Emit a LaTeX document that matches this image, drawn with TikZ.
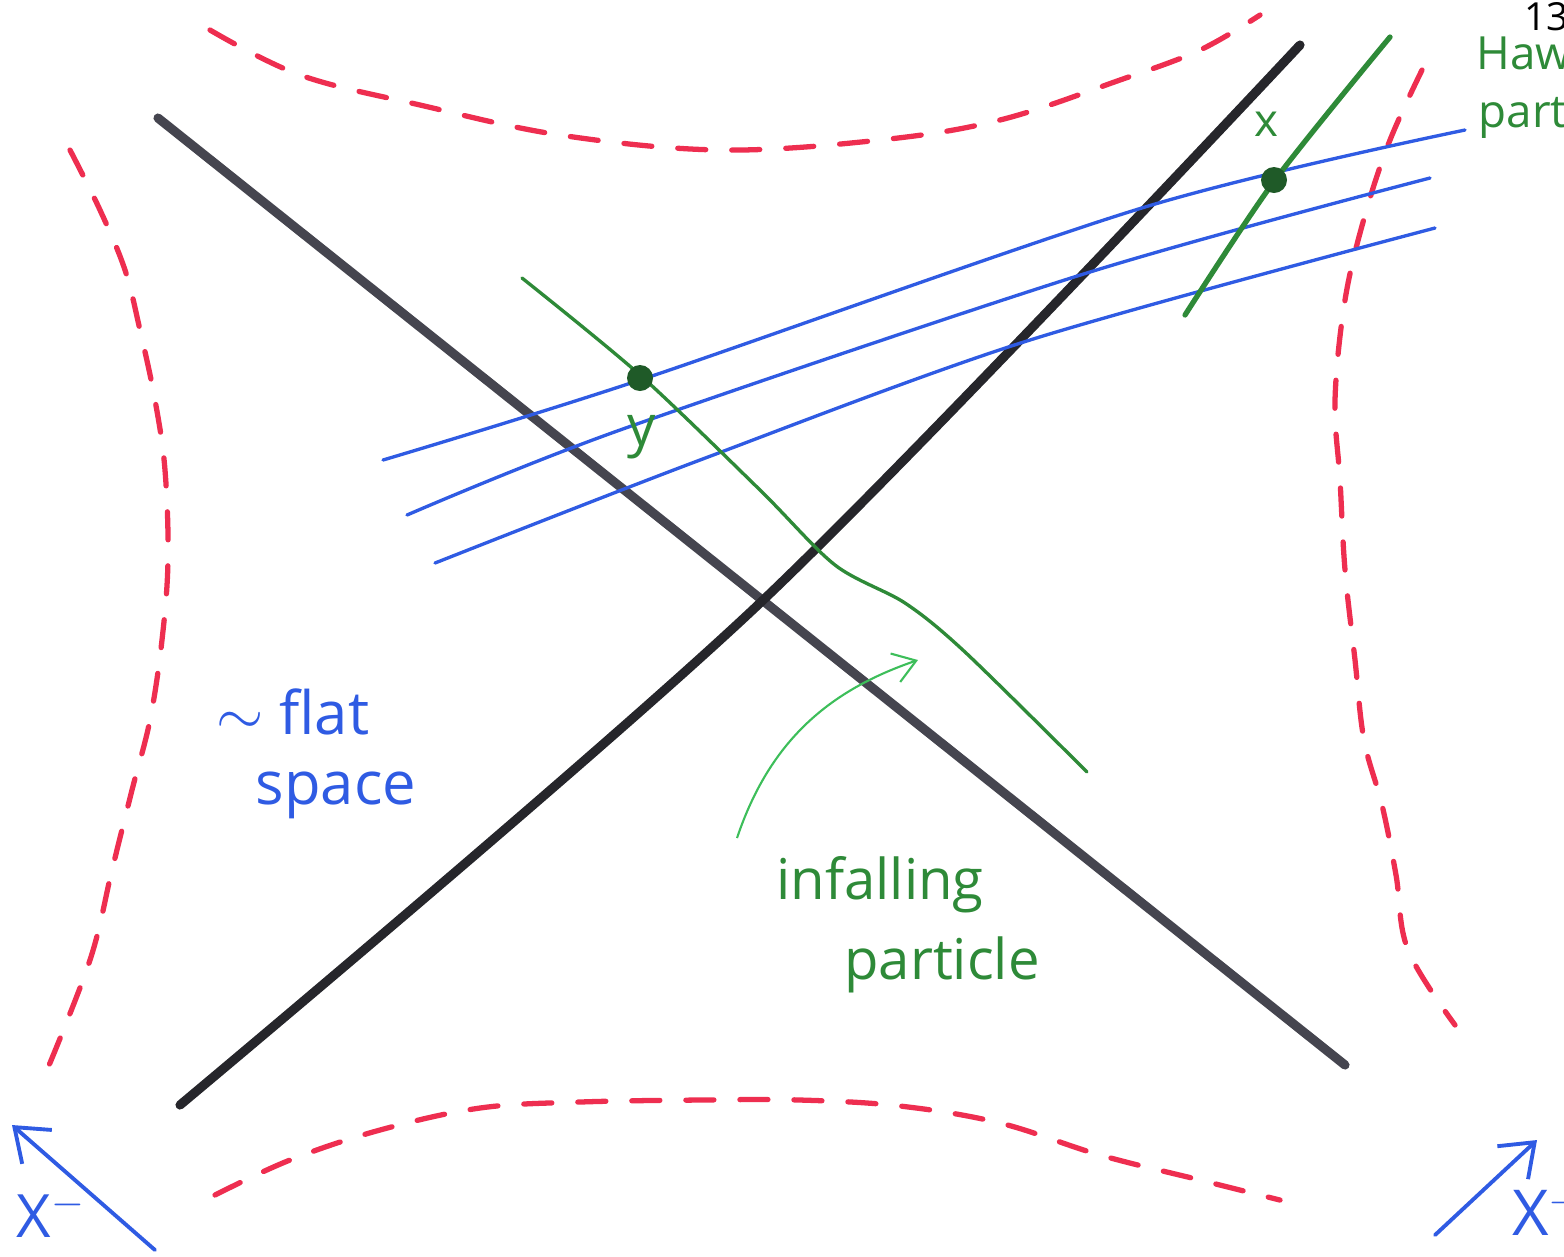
\documentclass[tikz,border=0pt]{standalone}
\usepackage{fontspec}
\setsansfont{Open Sans}
\usepackage{xcolor}
\definecolor{horizonBlack}{HTML}{26262B}
\definecolor{horizonGray}{HTML}{45454F}
\definecolor{boundaryRed}{HTML}{EE2E50}
\definecolor{rayBlue}{HTML}{2F5BE3}
\definecolor{particleGreen}{HTML}{2E8A38}
\definecolor{dotGreen}{HTML}{1F5A28}
\definecolor{arrowGreen}{HTML}{3DBE5A}
\usepackage{tikz}
\usetikzlibrary{
    arrows.meta,
    positioning,
    calc
}
\tikzset{
    % Horizons - thick dark marker strokes
    horizon/.style={
        line width=2.6pt,
        draw=horizonBlack,
        line cap=round,
    },
    % Conformal boundary - red dashes
    boundary/.style={
        line width=1.5pt,
        draw=boundaryRed,
        line cap=round,
        dash pattern=on 0.28cm off 0.26cm,
    },
    % Outgoing light rays
    ray/.style={
        line width=0.95pt,
        draw=rayBlue,
        line cap=round,
    },
    % Particle worldlines
    worldline/.style={
        line width=0.95pt,
        draw=particleGreen,
        line cap=round,
    },
    % Events marked on the worldlines
    event/.style={
        circle,
        fill=dotGreen,
        inner sep=0pt,
        minimum size=0.26cm,
    },
    % Light-cone axis arrows
    axis arrow/.style={
        -{Straight Barb[length=3mm, width=4.5mm]},
        line width=1.1pt,
        draw=rayBlue,
        line cap=round,
    },
    % Pointer to the infalling particle
    pointer/.style={
        -{Straight Barb[length=2.2mm, width=3mm]},
        line width=0.6pt,
        draw=arrowGreen,
    },
    % Handwritten-ish labels
    blue label/.style={
        text=rayBlue,
        font=\sffamily\fontsize{17}{20}\selectfont,
        inner sep=0pt,
    },
    green label/.style={
        text=particleGreen,
        font=\sffamily\fontsize{16}{19}\selectfont,
        inner sep=0pt,
    },
}

\begin{document}
\begin{tikzpicture}[x=0.01cm, y=-0.01cm, font=\sffamily]
    \useasboundingbox (0,0) rectangle (1564,1256);
    \clip (0,0) rectangle (1564,1256);

    % conformal boundary
    \draw [boundary] plot [smooth, tension=0.6] coordinates {
        (210,30) (300,75) (420,105) (560,135) (720,150) (880,140)
        (1000,120) (1120,80) (1200,50) (1260,15)};
    \draw [boundary] plot [smooth, tension=0.6] coordinates {
        (1422,70) (1390,140) (1365,215) (1345,300) (1335,400) (1340,480)
        (1345,570) (1355,660) (1364,740) (1382,805) (1396,875) (1408,950) (1455,1025)};
    \draw [boundary] plot [smooth, tension=0.6] coordinates {
        (215,1195) (290,1160) (380,1130) (480,1108) (580,1102) (700,1100)
        (800,1100) (900,1106) (1000,1123) (1100,1155) (1200,1180) (1280,1200)};
    \draw [boundary] plot [smooth, tension=0.6] coordinates {
        (70,150) (100,210) (125,270) (140,330) (155,400) (165,470)
        (168,560) (162,640) (150,720) (132,790) (112,870) (90,960) (45,1075)};

    % horizons
    \draw [horizon, draw=horizonGray] (158,118) -- (1345,1065);
    \draw [horizon] plot [smooth, tension=0.5] coordinates {
        (180,1105) (760,603) (1300,45)};

    % light rays
    \draw [ray] plot [smooth, tension=0.5] coordinates {
        (383,460) (640,380) (1145,207) (1465,130)};
    \draw [ray] plot [smooth, tension=0.5] coordinates {
        (407,515) (620,430) (1090,272) (1430,178)};
    \draw [ray] plot [smooth, tension=0.5] coordinates {
        (435,563) (700,460) (1030,340) (1435,228)};

    % worldlines
    \draw [worldline] plot [smooth, tension=0.5] coordinates {
        (522,278) (640,375) (760,490) (835,565) (905,603) (965,652) (1087,772)};
    \draw [worldline, line width=1.5pt] plot [smooth, tension=0.5] coordinates {
        (1185,315) (1275,180) (1390,37)};

    % events
    \node (yevent) [event] at (640,378) {};
    \node (xevent) [event] at (1274,180) {};
    \node (ylbl) [green label] at (642,437) {y};
    \node (xlbl) [green label, font=\sffamily\fontsize{13}{15}\selectfont] at (1266,124) {x};

    % labels
    \node (flatlbl) [blue label] at (293,712) {$\sim$ flat};
    \node (spacelbl) [blue label] at (336,795) {space};
    \node (fallLbl) [green label] at (880,885) {infalling};
    \node (partLbl) [green label] at (942,965) {particle};
    \node (hawkLbl) [green label, anchor=west, font=\sffamily\fontsize{13}{15}\selectfont] at (1476,58) {Hawking};
    \node (hpartLbl) [green label, anchor=west, font=\sffamily\fontsize{13}{15}\selectfont] at (1478,116) {particle};
    \node (pageNo) [anchor=north west, inner sep=0pt, font=\sffamily\fontsize{11}{13}\selectfont] at (1524,2) {13};

    % pointer to the infalling particle
    \coordinate (ptrTail) at (737,838);
    \coordinate (ptrHead) at (918,660);
    \draw [pointer] (ptrTail) .. controls (770,740) and (830,690) .. (ptrHead);

    % null coordinate axes
    \coordinate (xmTail) at (155,1250);
    \coordinate (xmTip) at (12,1125);
    \coordinate (xpTail) at (1435,1235);
    \coordinate (xpTip) at (1537,1140);
    \draw [axis arrow] (xmTail) -- (xmTip);
    \draw [axis arrow] (xpTail) -- (xpTip);
    \node (xmLbl) [blue label, anchor=west, font=\sffamily\fontsize{17}{20}\selectfont] at (16,1214) {X$^-$};
    \node (xpLbl) [blue label, anchor=west, font=\sffamily\fontsize{18}{21}\selectfont] at (1512,1212) {X$^+$};
\end{tikzpicture}
\end{document}
